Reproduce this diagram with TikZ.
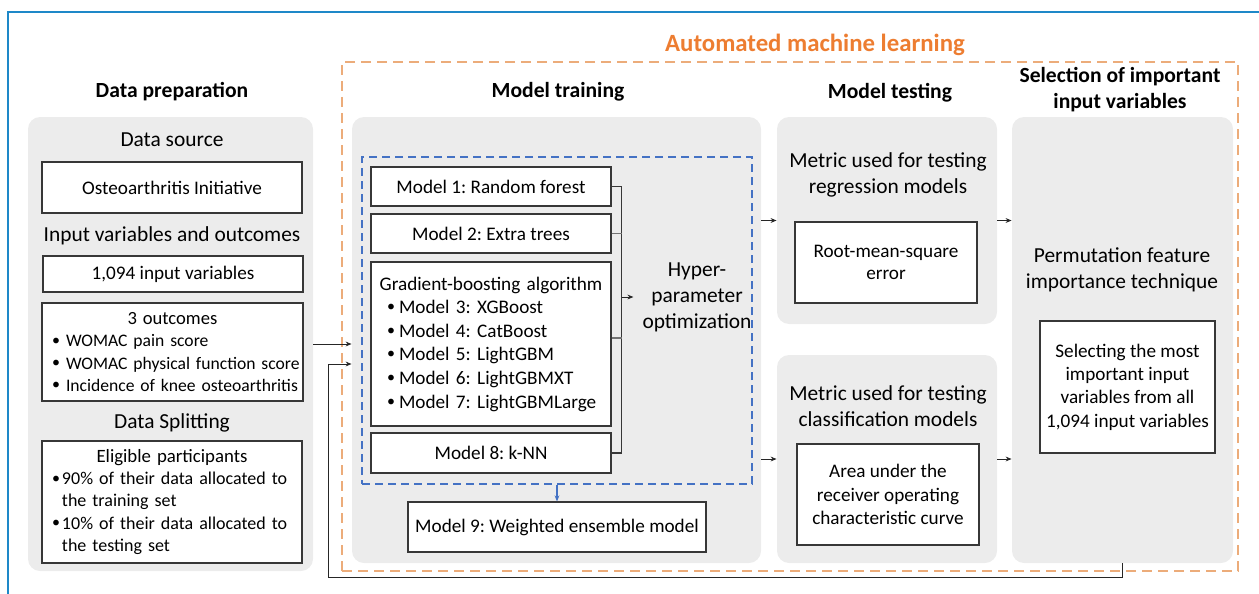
\documentclass[tikz,border=0pt]{standalone}
\usepackage{fontspec}
\setmainfont{Carlito}
\usetikzlibrary{arrows.meta}

\definecolor{panelgray}{RGB}{236,236,236}
\definecolor{automlorange}{RGB}{237,125,49}
\definecolor{automldash}{RGB}{236,172,122}
\definecolor{frameblue}{RGB}{30,136,200}
\definecolor{optblue}{RGB}{68,114,196}
\definecolor{boxline}{RGB}{55,55,55}

% small bullet of a given width
\newcommand\bul[1]{\makebox[#1][l]{\raisebox{0.2ex}{\footnotesize\textbullet}}}
\frenchspacing

\begin{document}
\begin{tikzpicture}[x=0.5pt, y=-0.5pt,
    panel/.style={fill=panelgray, rounded corners=6pt, inner sep=0pt},
    box/.style={draw=boxline, line width=0.6pt, fill=white, inner sep=0pt, align=center,
        font=\fontsize{9.6}{11.4}\selectfont},
    heading/.style={font=\bfseries\fontsize{10.8}{13}\selectfont, align=center},
    label/.style={font=\fontsize{10.7}{13}\selectfont, align=center},
    arr/.style={-{Stealth[length=3pt,width=2.4pt]}, line width=0.5pt, black!85}]

    % Fix the size of the page
    \useasboundingbox (0,0) rectangle (1259,594);

    % Draw the blue frame round the figure
    \draw[frameblue, line width=1pt] (8,594) -- (8,12) -- (1259,12);

    % Draw the dashed box of the automated machine learning part
    \node[draw=automldash, dashed, dash pattern=on 5pt off 3pt, line width=0.6pt,
        minimum width=448pt, minimum height=254.5pt, inner sep=0pt] (automl) at (790,316.5) {};
    \node[font=\bfseries\fontsize{12.4}{15}\selectfont, text=automlorange] (automltitle) at (815,45) {Automated machine learning};

    % Headings of the four stages
    \node[heading] (hprep) at (172,92) {Data preparation};
    \node[heading] (htrain) at (558,92) {Model training};
    \node[heading] (htest) at (890,93) {Model testing};
    \node[heading] (hselect) at (1120,90) {Selection of important\\input variables};

    % Gray panels
    \node[panel, minimum width=142.5pt, minimum height=227pt] (prep) at (170.5,344) {};
    \node[panel, minimum width=204.5pt, minimum height=223pt] (train) at (556.5,340) {};
    \node[panel, minimum width=110pt, minimum height=103.5pt] (testA) at (887,220.5) {};
    \node[panel, minimum width=110pt, minimum height=104pt] (testB) at (887,459) {};
    \node[panel, minimum width=110.5pt, minimum height=223pt] (select) at (1122.5,340) {};

    % Data preparation
    \node[label] (source) at (172,140) {Data source};
    \node[box, minimum width=130pt, minimum height=25.5pt] (oai) at (172,187.5) {Osteoarthritis Initiative};
    \node[label] (invars) at (172,236) {Input variables and outcomes};
    \node[box, minimum width=130pt, minimum height=18pt] (inputs) at (173,274) {1,094 input variables};
    \node[box, minimum width=130.5pt, minimum height=49pt, inner xsep=5pt, text width=120.5pt, align=left,
        font=\fontsize{8.8}{11.1}\selectfont] (outcomes) at (172.5,352)
        {\makebox[\hsize]{\fontsize{9.3}{11.1}\selectfont 3 outcomes}\\
         \mbox{\bul{7pt}WOMAC pain score}\\
         \mbox{\bul{7pt}WOMAC physical function score}\\
         \mbox{\bul{7pt}Incidence of knee osteoarthritis}};
    \node[label] (splitting) at (172,423) {Data Splitting};
    \node[box, minimum width=130pt, minimum height=61pt, inner xsep=5pt, text width=120pt, align=left,
        font=\fontsize{9}{11.1}\selectfont] (split) at (172,502)
        {\makebox[\hsize]{\fontsize{9.4}{11.1}\selectfont Eligible participants}\\
         \mbox{\bul{5pt}90\% of their data allocated to}\\
         \mbox{\hspace*{5pt}the training set}\\
         \mbox{\bul{5pt}10\% of their data allocated to}\\
         \mbox{\hspace*{5pt}the testing set}};

    % Model training
    \node[draw=optblue, dashed, dash pattern=on 4pt off 2.5pt, line width=0.7pt,
        minimum width=195pt, minimum height=163.5pt, inner sep=0pt] (opt) at (557,320.5) {};
    \node[box, minimum width=120pt, minimum height=19.5pt] (m1) at (491,186.5) {Model 1: Random forest};
    \node[box, minimum width=120pt, minimum height=19.5pt] (m2) at (491,233.5) {Model 2: Extra trees};
    \node[box, minimum width=120pt, minimum height=82pt, inner xsep=1pt, text width=118pt, align=left,
        font=\fontsize{9.6}{11.8}\selectfont] (gb) at (491,344)
        {\makebox[\hsize]{Gradient-boosting algorithm}\\
         \mbox{\hspace*{7pt}\bul{6pt}Model 3: XGBoost}\\
         \mbox{\hspace*{7pt}\bul{6pt}Model 4: CatBoost}\\
         \mbox{\hspace*{7pt}\bul{6pt}Model 5: LightGBM}\\
         \mbox{\hspace*{7pt}\bul{6pt}Model 6: LightGBMXT}\\
         \mbox{\hspace*{7pt}\bul{6pt}Model 7: LightGBMLarge}};
    \node[box, minimum width=120pt, minimum height=20pt] (m8) at (491,453) {Model 8: k-NN};
    \node[label] (hyper) at (697,297) {Hyper-\\parameter\\optimization};
    \node[box, minimum width=149pt, minimum height=25pt] (m9) at (557,527) {Model 9: Weighted ensemble model};

    % Bracket joining the models to the optimization
    \draw[boxline, line width=0.6pt] (m1.east) -| ([xshift=5pt]m8.east) -- (m8.east);
    \draw[boxline!70, line width=0.6pt] (m2.east) -- ++(5pt,0);
    \draw[boxline!70, line width=0.6pt] ([yshift=3pt]gb.east) -- ++(5pt,0);
    \draw[arr] ([xshift=5pt]m8.east |- hyper.west) -- ([xshift=-1pt]hyper.west);
    \draw[-{Stealth[length=3pt,width=2.4pt]}, optblue, line width=0.6pt] (opt.south) -- (m9.north);

    % Model testing
    \node[label] (regtext) at (888,175) {Metric used for testing\\regression models};
    \node[box, minimum width=91pt, minimum height=40.5pt] (rmse) at (886,262.5) {Root-mean-square\\error};
    \node[label] (clstext) at (888,406) {Metric used for testing\\classification models};
    \node[box, minimum width=91pt, minimum height=50.5pt, font=\fontsize{9.6}{11.7}\selectfont] (auc) at (888,494.5)
        {Area under the\\receiver operating\\characteristic curve};

    % Selection of important input variables
    \node[label] (perm) at (1122,270) {Permutation feature\\importance technique};
    \node[box, minimum width=87.5pt, minimum height=66pt, font=\fontsize{9.6}{11.7}\selectfont] (selbox) at (1127.5,387)
        {Selecting the most\\important input\\variables from all\\1,094 input variables};

    % Arrows between the stages
    \draw[arr] (prep.east) -- (prep.east -| train.west);
    \draw[arr] (testA.west -| train.east) -- (testA.west);
    \draw[arr] (testB.west -| train.east) -- (testB.west);
    \draw[arr] (testA.east) -- (testA.east -| select.west);
    \draw[arr] (testB.east) -- (testB.east -| select.west);

    % Feedback of the selected variables to the training
    \coordinate (fb) at (328,577);
    \draw[arr] (select.south) |- (fb) |- ([yshift=-12pt]train.west);

\end{tikzpicture}
\end{document}
